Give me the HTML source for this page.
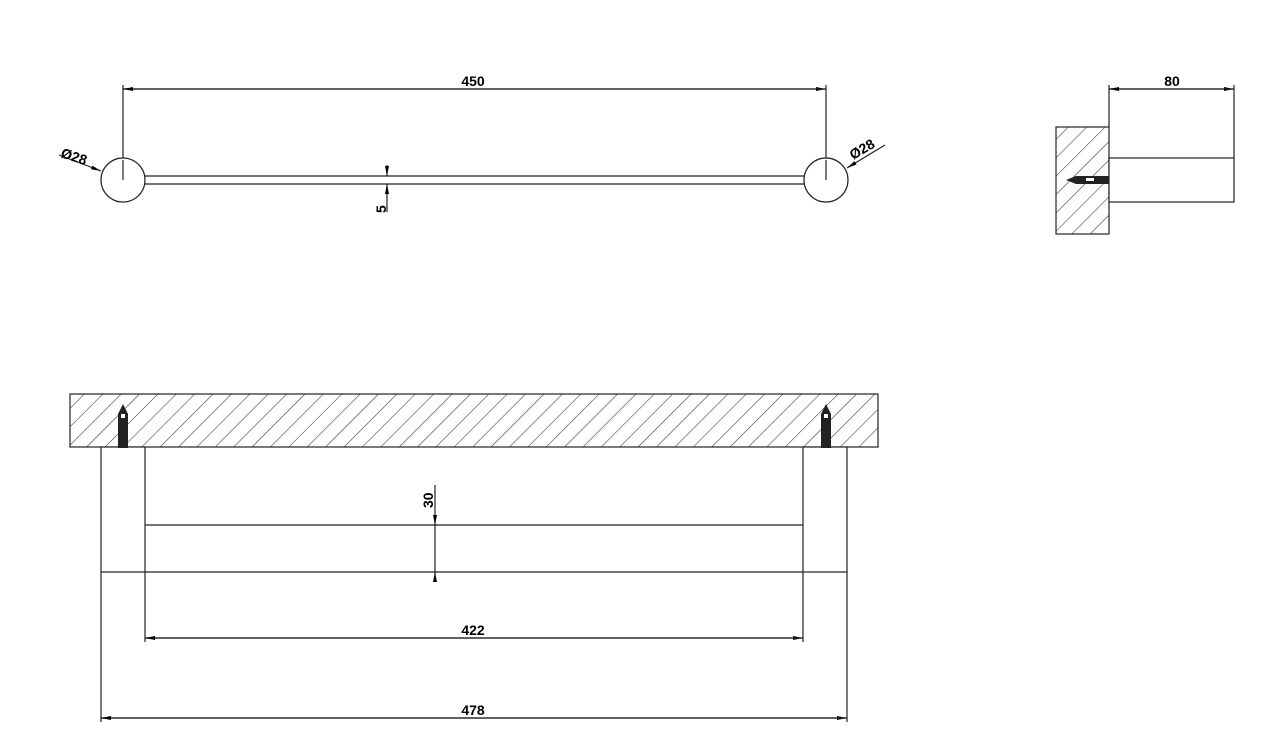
<!DOCTYPE html>
<html><head><style>html,body{margin:0;padding:0;background:#fff}svg{display:block}text{font-family:"Liberation Sans",sans-serif;font-weight:bold;fill:#000}</style></head>
<body>
<svg width="1267" height="748" viewBox="0 0 1267 748" xmlns="http://www.w3.org/2000/svg">
<defs>
<pattern id="h" patternUnits="userSpaceOnUse" width="13" height="13" patternTransform="rotate(45)">
<line x1="0" y1="0" x2="0" y2="13" stroke="#333" stroke-width="1.1"/>
</pattern>
<marker id="a" markerWidth="10" markerHeight="6" refX="10" refY="3" orient="auto" markerUnits="userSpaceOnUse"><path d="M0,1 L10,3 L0,5z" fill="#000"/></marker>
</defs>
<g stroke="#222" stroke-width="1.2" fill="none">
<!-- top view -->
<line x1="123" y1="85" x2="123" y2="180"/>
<line x1="826" y1="85" x2="826" y2="180"/>
<line x1="123" y1="89" x2="826" y2="89" marker-end="url(#a)"/>
<line x1="826" y1="89" x2="123" y2="89" marker-end="url(#a)"/>
<circle cx="123" cy="180" r="22" fill="#fff"/>
<circle cx="826" cy="180" r="22" fill="#fff"/>
<line x1="123" y1="180" x2="123" y2="160"/>
<line x1="826" y1="180" x2="826" y2="160"/>
<line x1="145" y1="176" x2="804" y2="176"/>
<line x1="145" y1="184" x2="804" y2="184"/>
<line x1="387" y1="165" x2="387" y2="176" marker-end="url(#a)"/>
<line x1="387" y1="212" x2="387" y2="184" marker-end="url(#a)"/>
<line x1="59" y1="155" x2="101" y2="171" marker-end="url(#a)"/>
<line x1="885" y1="145" x2="847" y2="168" marker-end="url(#a)"/>
<!-- side view -->
<rect x="1056" y="127" width="53" height="107" fill="url(#h)"/>
<line x1="1109" y1="85" x2="1109" y2="127"/>
<line x1="1234" y1="85" x2="1234" y2="158"/>
<line x1="1109" y1="89" x2="1234" y2="89" marker-end="url(#a)"/>
<line x1="1234" y1="89" x2="1109" y2="89" marker-end="url(#a)"/>
<rect x="1109" y="158" width="125" height="44" fill="#fff"/>
<!-- front view -->
<rect x="70" y="394" width="808" height="53" fill="url(#h)"/>
<rect x="101" y="447" width="44" height="125" fill="#fff"/>
<rect x="803" y="447" width="44" height="125" fill="#fff"/>
<line x1="145" y1="525" x2="803" y2="525"/>
<line x1="145" y1="572" x2="803" y2="572"/>
<line x1="101" y1="572" x2="101" y2="722"/>
<line x1="847" y1="572" x2="847" y2="722"/>
<line x1="145" y1="572" x2="145" y2="642"/>
<line x1="803" y1="572" x2="803" y2="642"/>
<line x1="145" y1="638" x2="803" y2="638" marker-end="url(#a)"/>
<line x1="803" y1="638" x2="145" y2="638" marker-end="url(#a)"/>
<line x1="101" y1="718" x2="847" y2="718" marker-end="url(#a)"/>
<line x1="847" y1="718" x2="101" y2="718" marker-end="url(#a)"/>
<line x1="435" y1="485" x2="435" y2="525" marker-end="url(#a)"/>
<line x1="435" y1="580" x2="435" y2="572" marker-end="url(#a)"/>
<line x1="435" y1="525" x2="435" y2="572"/>
</g>
<!-- screws -->
<g fill="#222">
<path d="M118,448 L118,414 L123,404 L128,414 L128,448z"/>
<path d="M821,448 L821,414 L826,404 L831,414 L831,448z"/>
<path d="M1109,176 L1076,176 L1066,180 L1076,184 L1109,184z"/>
</g>
<g fill="#fff"><rect x="121" y="414" width="4" height="4"/><rect x="824" y="414" width="4" height="4"/><rect x="1086" y="178" width="8" height="3"/></g>
<g font-size="14">
<text x="473" y="86" text-anchor="middle">450</text>
<text x="1172" y="86" text-anchor="middle">80</text>
<text x="473" y="635" text-anchor="middle">422</text>
<text x="473" y="715" text-anchor="middle">478</text>
<text transform="translate(386,213) rotate(-90)">5</text>
<text transform="translate(433,508) rotate(-90)">30</text>
<text transform="translate(60,157) rotate(18)">Ø28</text>
<text transform="translate(853,160) rotate(-30)">Ø28</text>
</g>
</svg>
</body></html>
